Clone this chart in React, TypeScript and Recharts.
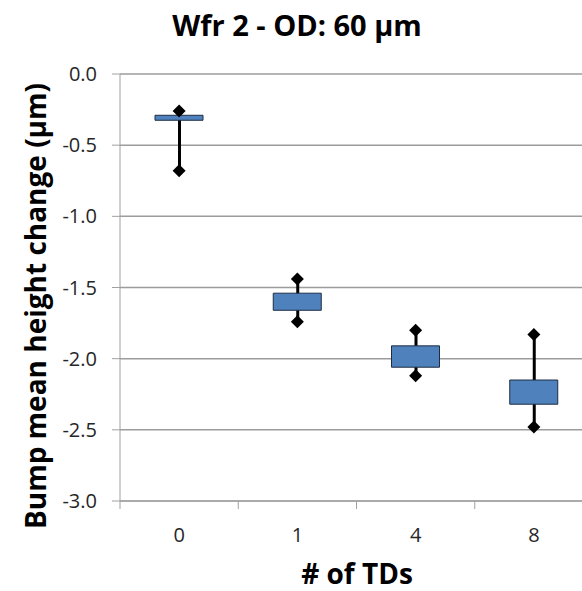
import { ComposedChart, Bar, Scatter, XAxis, YAxis, CartesianGrid } from 'recharts'

const categories = ['0', '1', '4', '8']
const highValues = [-0.26, -1.44, -1.8, -1.83]
const boxTop = [-0.29, -1.54, -1.91, -2.15]
const boxBottom = [-0.325, -1.66, -2.06, -2.32]
const lowValues = [-0.68, -1.74, -2.12, -2.48]
const yTicks = [0, -0.5, -1, -1.5, -2, -2.5, -3]

const data = categories.map((cat, i) => ({
  cat,
  high: highValues[i],
  low: lowValues[i],
  whisker: [lowValues[i], highValues[i]],
  box: [boxBottom[i], boxTop[i]],
}))

const FONT = '"Open Sans", sans-serif'
const AXIS_GRAY = '#a0a0a0'

function Diamond(props: any) {
  const { cx, cy } = props
  if (cx == null || cy == null) return null
  const r = 6.5
  return (
    <polygon
      points={`${cx},${cy - r} ${cx + r},${cy} ${cx},${cy + r} ${cx - r},${cy}`}
      fill="#000"
    />
  )
}

function CategoryTick(props: any) {
  const { x, y, payload } = props
  const half = payload?.offset || 59
  const axisY = y - 8 - 14
  const last = payload?.index === categories.length - 1
  return (
    <g>
      <line x1={x - half} x2={x - half} y1={axisY} y2={axisY + 8} stroke={AXIS_GRAY} />
      {last && <line x1={x + half} x2={x + half} y1={axisY} y2={axisY + 8} stroke={AXIS_GRAY} />}
      <text x={x} y={axisY + 41} textAnchor="middle" fontSize={20} fontFamily={FONT} fill="#262626">
        {payload.value}
      </text>
    </g>
  )
}

export default function App() {
  return (
    <div style={{ position: 'absolute', left: 0, top: 0, width: 582, height: 591, overflow: 'hidden', background: '#fff' }}>
      <ComposedChart
        width={600}
        height={591}
        data={data}
        margin={{ top: 74, right: 7, bottom: 30, left: 0 }}
      >
        <CartesianGrid vertical={false} stroke="#9c9c9c" strokeWidth={1.5} />
        <XAxis
          xAxisId="a"
          dataKey="cat"
          height={60}
          stroke={AXIS_GRAY}
          tickLine={false}
          tick={<CategoryTick />}
          tickSize={8}
          tickMargin={14}
        />
        <XAxis xAxisId="b" dataKey="cat" hide />
        <YAxis
          domain={[-3, 0]}
          ticks={yTicks}
          width={120}
          stroke={AXIS_GRAY}
          tickSize={8}
          tickMargin={15}
          tickFormatter={(v: number) => v.toFixed(1)}
          tick={{ fill: '#262626', fontSize: 20, fontFamily: FONT }}
        />
        <Bar xAxisId="a" dataKey="whisker" barSize={3} fill="#000" isAnimationActive={false} />
        <Bar
          xAxisId="b"
          dataKey="box"
          barSize={48}
          fill="#4f81bd"
          stroke="#1e2d44"
          strokeWidth={1}
          isAnimationActive={false}
        />
        <Scatter xAxisId="a" dataKey="high" shape={<Diamond />} isAnimationActive={false} />
        <Scatter xAxisId="a" dataKey="low" shape={<Diamond />} isAnimationActive={false} />
      </ComposedChart>
      <svg width={582} height={591} style={{ position: 'absolute', left: 0, top: 0, pointerEvents: 'none' }}>
        <text x={297} y={36} textAnchor="middle" fontSize={29} fontWeight="bold" fontFamily={FONT} fill="#000">
          Wfr 2 - OD: 60 µm
        </text>
        <text x={357} y={584} textAnchor="middle" fontSize={28} fontWeight="bold" fontFamily={FONT} fill="#000">
          # of TDs
        </text>
        <text
          x={0}
          y={0}
          transform="translate(46 306) rotate(-90)"
          textAnchor="middle"
          fontSize={28}
          fontWeight="bold"
          fontFamily={FONT}
          fill="#000"
        >
          Bump mean height change (µm)
        </text>
      </svg>
    </div>
  )
}
